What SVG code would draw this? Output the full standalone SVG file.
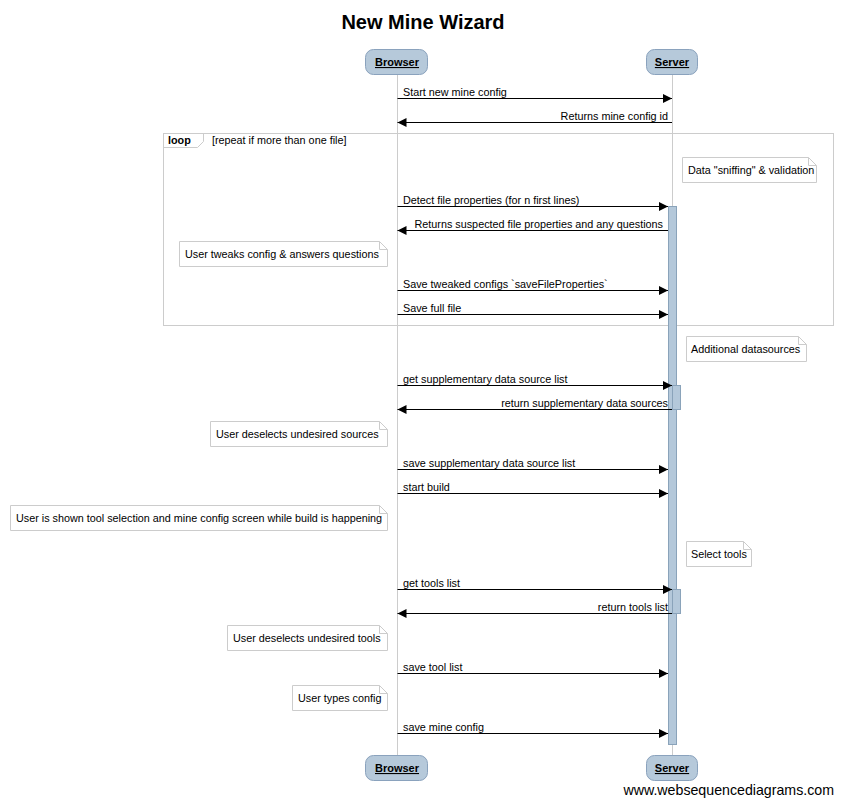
<svg xmlns="http://www.w3.org/2000/svg" width="843" height="804" viewBox="0 0 843 804">
<style>
text{font-family:"Liberation Sans",Arial,sans-serif;font-size:10.8px;fill:#000}
.title{font-size:20px;font-weight:bold}
.part rect{fill:#b6c9da;stroke:#8aa2bd;stroke-width:1}
.part text{font-size:11px;font-weight:bold;text-decoration:underline}
.life{stroke:#cccccc;stroke-width:1}
.msg{stroke:#000;stroke-width:1;fill:none}
.note path{fill:#fff;stroke:#cccccc;stroke-width:1}
.bar{fill:#b4c8da;stroke:#8aa3ba;stroke-width:1}
.frame{fill:none;stroke:#cccccc;stroke-width:1}
.wm{font-size:14.2px}
</style>
<defs>
<marker id="ah" markerWidth="10" markerHeight="10" refX="9" refY="4.5" orient="auto" markerUnits="userSpaceOnUse">
<path d="M0,0 L9,4.5 L0,9 Z" fill="#000"/>
</marker>
</defs>
<rect width="843" height="804" fill="#fff"/>
<text class="title" x="423" y="29" text-anchor="middle">New Mine Wizard</text>

<g id="lifelines">
<line class="life" x1="397.5" y1="74" x2="397.5" y2="755"/>
<line class="life" x1="672.5" y1="74" x2="672.5" y2="755"/>
</g>

<g id="loop">
<rect class="frame" x="163.5" y="133.5" width="670" height="192"/>
<path class="frame" d="M163.5,147.5 H197.5 L203.5,141.5 V133.5"/>
<text x="168" y="144" font-weight="bold">loop</text>
<text x="212" y="144">[repeat if more than one file]</text>
</g>

<g id="activations">
<rect class="bar" x="668.5" y="206.5" width="8" height="538"/>
<rect class="bar" x="672.5" y="385.5" width="8" height="24"/>
<rect class="bar" x="672.5" y="589.5" width="8" height="24"/>
</g>

<g id="participant-browser" class="part">
<rect x="365.5" y="49.5" width="62" height="25" rx="8"/>
<text x="397" y="66" text-anchor="middle">Browser</text>
<rect x="365.5" y="755.5" width="62" height="25" rx="8"/>
<text x="397" y="772" text-anchor="middle">Browser</text>
</g>
<g id="participant-server" class="part">
<rect x="646.5" y="49.5" width="51" height="25" rx="8"/>
<text x="672" y="66" text-anchor="middle">Server</text>
<rect x="646.5" y="755.5" width="51" height="25" rx="8"/>
<text x="672" y="772" text-anchor="middle">Server</text>
</g>

<g id="connectors">
<line class="msg" x1="397.5" y1="98.5" x2="672" y2="98.5" marker-end="url(#ah)"/>
<text x="403" y="96">Start new mine config</text>
<line class="msg" x1="672" y1="122.5" x2="397.5" y2="122.5" marker-end="url(#ah)"/>
<text x="668" y="120" text-anchor="end">Returns mine config id</text>

<line class="msg" x1="397.5" y1="206.5" x2="668" y2="206.5" marker-end="url(#ah)"/>
<text x="403" y="204">Detect file properties (for n first lines)</text>
<line class="msg" x1="668" y1="230.5" x2="397.5" y2="230.5" marker-end="url(#ah)"/>
<text x="663" y="228" text-anchor="end">Returns suspected file properties and any questions</text>

<line class="msg" x1="397.5" y1="290.5" x2="668" y2="290.5" marker-end="url(#ah)"/>
<text x="403" y="288">Save tweaked configs `saveFileProperties`</text>
<line class="msg" x1="397.5" y1="314.5" x2="668" y2="314.5" marker-end="url(#ah)"/>
<text x="403" y="312">Save full file</text>

<line class="msg" x1="397.5" y1="385.5" x2="672" y2="385.5" marker-end="url(#ah)"/>
<text x="403" y="383">get supplementary data source list</text>
<line class="msg" x1="672" y1="409.5" x2="397.5" y2="409.5" marker-end="url(#ah)"/>
<text x="668" y="407" text-anchor="end">return supplementary data sources</text>

<line class="msg" x1="397.5" y1="469.5" x2="668" y2="469.5" marker-end="url(#ah)"/>
<text x="403" y="467">save supplementary data source list</text>
<line class="msg" x1="397.5" y1="493.5" x2="668" y2="493.5" marker-end="url(#ah)"/>
<text x="403" y="491">start build</text>

<line class="msg" x1="397.5" y1="589.5" x2="672" y2="589.5" marker-end="url(#ah)"/>
<text x="403" y="587">get tools list</text>
<line class="msg" x1="672" y1="613.5" x2="397.5" y2="613.5" marker-end="url(#ah)"/>
<text x="668" y="611" text-anchor="end">return tools list</text>

<line class="msg" x1="397.5" y1="673.5" x2="668" y2="673.5" marker-end="url(#ah)"/>
<text x="403" y="671">save tool list</text>
<line class="msg" x1="397.5" y1="733.5" x2="668" y2="733.5" marker-end="url(#ah)"/>
<text x="403" y="731">save mine config</text>
</g>

<g id="note-sniffing" class="note">
<path d="M682.5,157.5 H808.5 L816.5,165.5 V182.5 H682.5 Z M808.5,157.5 V165.5 H816.5"/>
<text x="688" y="174">Data "sniffing" &amp; validation</text>
</g>
<g id="note-tweaks" class="note">
<path d="M179.5,241.5 H379.5 L387.5,249.5 V266.5 H179.5 Z M379.5,241.5 V249.5 H387.5"/>
<text x="185" y="258">User tweaks config &amp; answers questions</text>
</g>
<g id="note-additional" class="note">
<path d="M686.5,336.5 H798.5 L806.5,344.5 V361.5 H686.5 Z M798.5,336.5 V344.5 H806.5"/>
<text x="691" y="353">Additional datasources</text>
</g>
<g id="note-deselect-sources" class="note">
<path d="M210.5,421.5 H379.5 L387.5,429.5 V446.5 H210.5 Z M379.5,421.5 V429.5 H387.5"/>
<text x="216" y="438">User deselects undesired sources</text>
</g>
<g id="note-shown" class="note">
<path d="M10.5,505.5 H379.5 L387.5,513.5 V530.5 H10.5 Z M379.5,505.5 V513.5 H387.5"/>
<text x="16" y="522">User is shown tool selection and mine config screen while build is happening</text>
</g>
<g id="note-select-tools" class="note">
<path d="M686.5,541.5 H743.5 L751.5,549.5 V566.5 H686.5 Z M743.5,541.5 V549.5 H751.5"/>
<text x="691" y="558">Select tools</text>
</g>
<g id="note-deselect-tools" class="note">
<path d="M227.5,625.5 H379.5 L387.5,633.5 V650.5 H227.5 Z M379.5,625.5 V633.5 H387.5"/>
<text x="233" y="642">User deselects undesired tools</text>
</g>
<g id="note-types" class="note">
<path d="M292.5,685.5 H379.5 L387.5,693.5 V710.5 H292.5 Z M379.5,685.5 V693.5 H387.5"/>
<text x="298" y="702">User types config</text>
</g>

<text class="wm" x="834" y="795" text-anchor="end">www.websequencediagrams.com</text>
</svg>
